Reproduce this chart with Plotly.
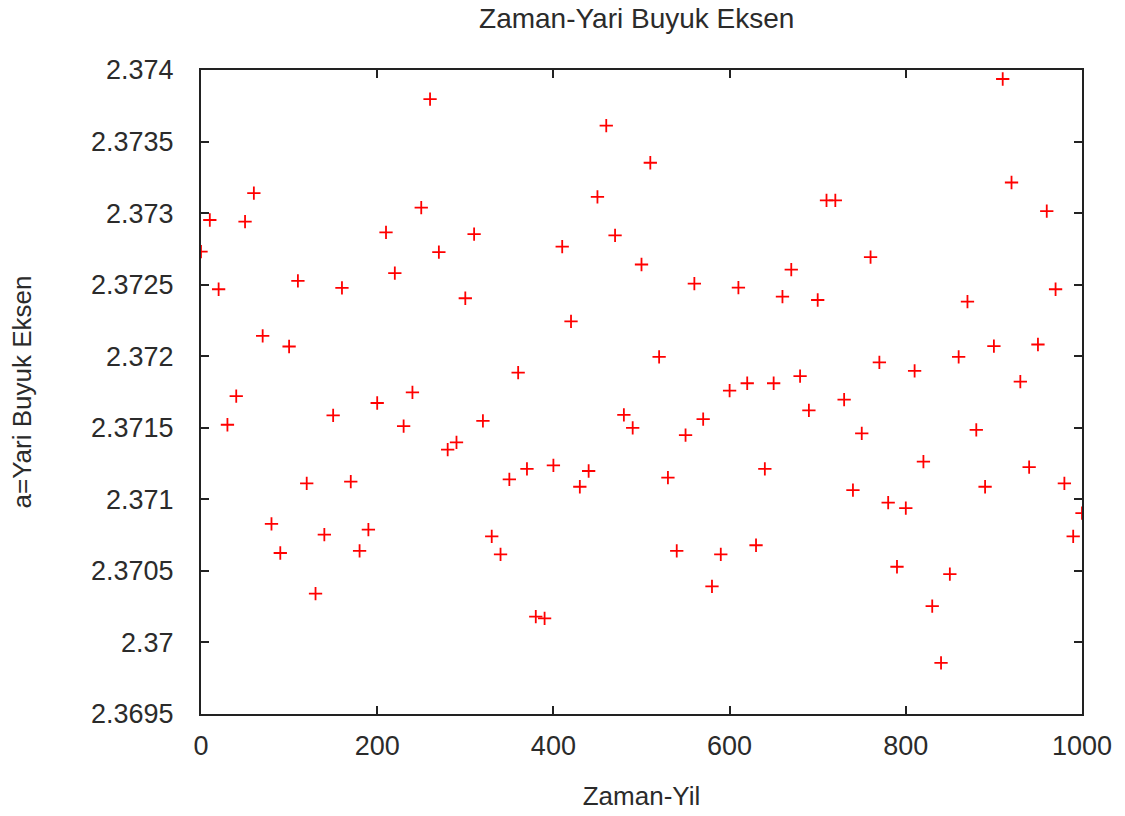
import plotly.graph_objects as go

# Time in years, sampled every 10 years
years = list(range(0, 1001, 10))

# Semi-major axis values at each time step
semi_major_axis = [
    2.372731, 2.372952, 2.372468, 2.371521, 2.371721, 2.372940, 2.373140, 2.372142, 2.370828, 2.370625,
    2.372068, 2.372527, 2.371112, 2.370341, 2.370753, 2.371587, 2.372477, 2.371124, 2.370640, 2.370789,
    2.371673, 2.372865, 2.372581, 2.371512, 2.371748, 2.373038, 2.373797, 2.372728, 2.371348, 2.371398,
    2.372405, 2.372853, 2.371548, 2.370741, 2.370616, 2.371139, 2.371885, 2.371213, 2.370180, 2.370168,
    2.371237, 2.372766, 2.372244, 2.371088, 2.371198, 2.373113, 2.373612, 2.372844, 2.371590, 2.371500,
    2.372641, 2.373352, 2.371996, 2.371151, 2.370640, 2.371449, 2.372507, 2.371560, 2.370392, 2.370616,
    2.371760, 2.372480, 2.371811, 2.370679, 2.371213, 2.371811, 2.372417, 2.372605, 2.371861, 2.371622,
    2.372393, 2.373089, 2.373089, 2.371697, 2.371064, 2.371461, 2.372692, 2.371957, 2.370977, 2.370529,
    2.370938, 2.371897, 2.371264, 2.370254, 2.369857, 2.370478, 2.371996, 2.372381, 2.371485, 2.371088,
    2.372070, 2.373937, 2.373214, 2.371823, 2.371225, 2.372082, 2.373014, 2.372468, 2.371112, 2.370741,
    2.370903,
]

# Axis ticks
x_ticks = [0, 200, 400, 600, 800, 1000]
y_ticks = [2.3695, 2.37, 2.3705, 2.371, 2.3715, 2.372, 2.3725, 2.373, 2.3735, 2.374]
y_tick_text = ["2.3695", "2.37", "2.3705", "2.371", "2.3715", "2.372", "2.3725", "2.373", "2.3735", "2.374"]

FONT = "Liberation Sans, Arial, sans-serif"
TEXT_COLOR = "#2b2b2b"

fig = go.Figure()
fig.add_trace(go.Scatter(
    x=years,
    y=semi_major_axis,
    mode="markers",
    marker=dict(symbol="cross-thin", size=9.5, line=dict(color="#ff0000", width=1.8), color="#ff0000"),
    showlegend=False,
    cliponaxis=True,
))

axis_common = dict(
    showgrid=False,
    zeroline=False,
    showline=True,
    linecolor="#222222",
    linewidth=2,
    mirror="ticks",
    ticks="inside",
    ticklen=8,
    tickwidth=1.5,
    tickcolor="#222222",
    tickfont=dict(family=FONT, size=27, color=TEXT_COLOR),
)

fig.update_xaxes(
    range=[0, 1000],
    tickvals=x_ticks,
    ticklabelstandoff=7,
    title=dict(text="Zaman-Yil", font=dict(family=FONT, size=26, color=TEXT_COLOR), standoff=26),
    **axis_common,
)
fig.update_yaxes(
    range=[2.3695, 2.374],
    tickvals=y_ticks,
    ticktext=y_tick_text,
    ticklabelstandoff=20,
    title=dict(text="a=Yari Buyuk Eksen", font=dict(family=FONT, size=26, color=TEXT_COLOR), standoff=52),
    **axis_common,
)

fig.update_layout(
    width=1125,
    height=816,
    margin=dict(l=201, r=43, t=70, b=102, autoexpand=False),
    paper_bgcolor="white",
    plot_bgcolor="white",
    title=dict(
        text="Zaman-Yari Buyuk Eksen",
        font=dict(family=FONT, size=28, color=TEXT_COLOR),
        x=0.566, xref="container", xanchor="center",
        y=1 - 18 / 816, yref="container", yanchor="middle",
    ),
)

fig.write_html("out.html")
